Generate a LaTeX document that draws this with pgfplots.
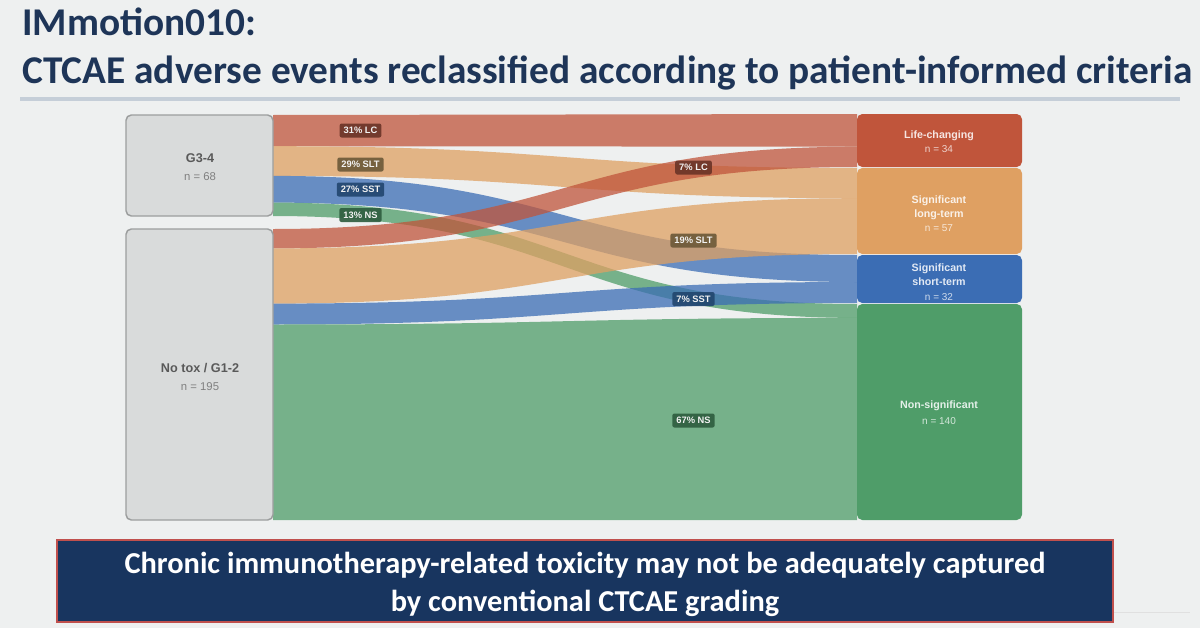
\documentclass[border=0pt]{standalone}
\usepackage{pgfplots}
\pgfplotsset{compat=1.18}
\usepackage{fontspec}
\setmainfont{Carlito}
\newfontfamily\sk{Liberation Sans}
\definecolor{bg}{HTML}{EEF0F0}
\definecolor{navy}{HTML}{1E3558}
\definecolor{rulec}{HTML}{C5CED8}
\definecolor{nodegray}{HTML}{D9DBDB}
\definecolor{nodeborder}{HTML}{9C9E9E}
\definecolor{lc}{HTML}{C0553B}
\definecolor{slt}{HTML}{DFA062}
\definecolor{sst}{HTML}{3B6DB4}
\definecolor{ns}{HTML}{4F9D69}
\definecolor{lclab}{HTML}{6A3427}
\definecolor{sltlab}{HTML}{6B5838}
\definecolor{sstlab}{HTML}{22466E}
\definecolor{nslab}{HTML}{2D5C3E}
\definecolor{boxnavy}{HTML}{18355F}
\definecolor{boxred}{HTML}{C0504D}
% flow: left top, left bottom, right top, right bottom, colour
\newcommand{\flow}[5]{%
  \fill[#5, opacity=0.75] (273,#1) .. controls (565,#1) and (565,#3) .. (857,#3)
     -- (857,#4) .. controls (565,#4) and (565,#2) .. (273,#2) -- cycle;}
\newcommand{\flab}[4]{%
  \node[fill=#3, fill opacity=0.9, text opacity=1, text=white!90!gray, rounded corners=1.5pt,
        inner xsep=3pt, inner ysep=0pt, minimum height=10.5pt,
        font=\sk\bfseries\fontsize{7}{7}\selectfont] at (#1,#2) {#4};}
\begin{document}
\begin{tikzpicture}
\begin{axis}[width=900pt,height=471pt,scale only axis,hide axis,
  xmin=0,xmax=1200,ymin=0,ymax=628,y dir=reverse,clip=false]
\fill[bg] (0,0) rectangle (1200,628);
% title
\node[anchor=base west, text=navy, font=\bfseries\fontsize{29.5}{29.5}\selectfont, inner sep=0pt] at (22,35) {IMmotion010:};
\node[anchor=base west, text=navy, font=\bfseries\fontsize{29.5}{29.5}\selectfont, inner sep=0pt] at (22,83) {CTCAE adverse events reclassified according to patient-informed criteria};
\fill[rulec] (20,96.5) rectangle (1180,100.5);
% flows (G3-4: n=68 -> 21 LC, 20 SLT, 18 SST, 9 NS; No tox/G1-2: n=195 -> 13 LC, 37 SLT, 14 SST, 131 NS)
\flow{115}{146.2}{114}{146.7}{lc}
\flow{146.2}{175.9}{168}{198.2}{slt}
\flow{175.9}{202.6}{255}{282}{sst}
\flow{202.6}{216}{304}{317.9}{ns}
\flow{229}{248.4}{146.7}{167}{lc}
\flow{248.4}{303.6}{198.2}{254}{slt}
\flow{303.6}{324.5}{282}{303}{sst}
\flow{324.5}{520}{317.9}{520}{ns}
% left nodes
\addplot[fill=nodegray, draw=nodeborder, line width=1.1pt, rounded corners=4pt]
  coordinates {(126,115) (273,115) (273,216) (126,216)} -- cycle;
\addplot[fill=nodegray, draw=nodeborder, line width=1.1pt, rounded corners=4pt]
  coordinates {(126,229) (273,229) (273,520) (126,520)} -- cycle;
% right nodes
\addplot[fill=lc, draw=none, rounded corners=4pt]
  coordinates {(857,114) (1022,114) (1022,167) (857,167)} -- cycle;
\addplot[fill=slt, draw=none, rounded corners=4pt]
  coordinates {(857,168) (1022,168) (1022,254) (857,254)} -- cycle;
\addplot[fill=sst, draw=none, rounded corners=4pt]
  coordinates {(857,255) (1022,255) (1022,303) (857,303)} -- cycle;
\addplot[fill=ns, draw=none, rounded corners=4pt]
  coordinates {(857,304) (1022,304) (1022,520) (857,520)} -- cycle;
% left node labels
\node[anchor=base, text=black!65, font=\sk\bfseries\fontsize{9.5}{9.5}\selectfont, inner sep=0pt] at (200,162) {G3-4};
\node[anchor=base, text=black!50, font=\sk\fontsize{8.5}{8.5}\selectfont, inner sep=0pt] at (200,180.5) {n = 68};
\node[anchor=base, text=black!65, font=\sk\bfseries\fontsize{9.5}{9.5}\selectfont, inner sep=0pt] at (200,372) {No tox / G1-2};
\node[anchor=base, text=black!50, font=\sk\fontsize{8.5}{8.5}\selectfont, inner sep=0pt] at (200,390.5) {n = 195};
% right node labels
\begin{scope}[every node/.style={anchor=base, inner sep=0pt}]
\node[text=white!85!lc, font=\sk\bfseries\fontsize{8}{8}\selectfont] at (939,138) {Life-changing};
\node[text=white!75!lc, font=\sk\fontsize{7.5}{7.5}\selectfont] at (939,152.5) {n = 34};
\node[text=white!85!slt, font=\sk\bfseries\fontsize{8}{8}\selectfont] at (939,203) {Significant};
\node[text=white!85!slt, font=\sk\bfseries\fontsize{8}{8}\selectfont] at (939,217) {long-term};
\node[text=white!75!slt, font=\sk\fontsize{7.5}{7.5}\selectfont] at (939,231.5) {n = 57};
\node[text=white!85!sst, font=\sk\bfseries\fontsize{8}{8}\selectfont] at (939,271) {Significant};
\node[text=white!85!sst, font=\sk\bfseries\fontsize{8}{8}\selectfont] at (939,285.5) {short-term};
\node[text=white!75!sst, font=\sk\fontsize{7.5}{7.5}\selectfont] at (939,300) {n = 32};
\node[text=white!85!ns, font=\sk\bfseries\fontsize{8}{8}\selectfont] at (939,408) {Non-significant};
\node[text=white!75!ns, font=\sk\fontsize{7.5}{7.5}\selectfont] at (939,424) {n = 140};
\end{scope}
% flow labels
\flab{360.5}{130.5}{lclab}{31\% LC}
\flab{360.5}{164.5}{sltlab}{29\% SLT}
\flab{360.5}{189.5}{sstlab}{27\% SST}
\flab{360.5}{215}{nslab}{13\% NS}
\flab{693.5}{167.5}{lclab}{7\% LC}
\flab{693.5}{240.5}{sltlab}{19\% SLT}
\flab{693.5}{299}{sstlab}{7\% SST}
\flab{693.5}{420.5}{nslab}{67\% NS}
% bottom box
\draw[black!12, line width=0.6pt] (1113,612) -- (1190,612);
\filldraw[fill=boxnavy, draw=boxred, line width=1.1pt] (57,540) rectangle (1113,622);
\node[anchor=base, text=white, font=\bfseries\fontsize{22.8}{22.8}\selectfont, inner sep=0pt] at (585,573) {Chronic immunotherapy-related toxicity may not be adequately captured};
\node[anchor=base, text=white, font=\bfseries\fontsize{22.8}{22.8}\selectfont, inner sep=0pt] at (585,611) {by conventional CTCAE grading};
\end{axis}
\end{tikzpicture}
\end{document}
